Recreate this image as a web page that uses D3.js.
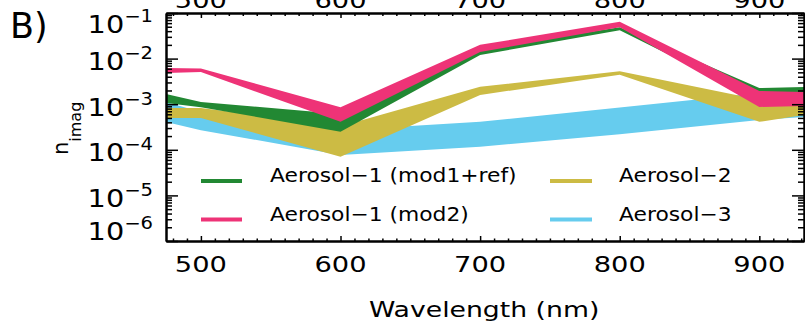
<!DOCTYPE html>
<html>
<head>
<meta charset="utf-8">
<script src="https://cdn.jsdelivr.net/npm/d3@7"></script>
<style>
  body { margin: 0; background: #fff; }
  svg { display: block; }
  text { font-family: "DejaVu Sans", sans-serif; fill: #000; }
</style>
</head>
<body>
<svg id="chart" width="805" height="325"></svg>
<script>
// Wavelengths (nm) at which the imaginary refractive index range is given
const wavelengths = [450, 500, 600, 700, 800, 900, 950];

// Upper / lower bounds of n_imag for each aerosol type
const aer1RefUpper  = [2.5e-3, 1.12e-3, 6.1e-4, 1.65e-2, 4.9e-2, 2.26e-3, 2.45e-3];
const aer1RefLower  = [1.32e-3, 8.6e-4, 2.5e-4, 1.2e-2, 4.2e-2, 1.25e-3, 1.3e-3];
const aer1Mod2Upper = [6.4e-3, 6.1e-3, 8.6e-4, 2.0e-2, 6.4e-2, 1.95e-3, 1.8e-3];
const aer1Mod2Lower = [4.6e-3, 5.1e-3, 4.1e-4, 1.4e-2, 4.9e-2, 8.7e-4, 9.4e-4];
const aer2Upper     = [8.3e-4, 8.3e-4, 3.3e-4, 2.4e-3, 5.3e-3, 1.25e-3, 8.3e-4];
const aer2Lower     = [5.0e-4, 5.0e-4, 7.0e-5, 1.6e-3, 4.4e-3, 4.1e-4, 7.0e-4];
const aer3Upper     = [1.85e-3, 6.75e-4, 2.7e-4, 4.1e-4, 8.5e-4, 1.76e-3, 2.0e-3];
const aer3Lower     = [6.1e-4, 2.7e-4, 7.7e-5, 1.17e-4, 2.2e-4, 4.5e-4, 5.7e-4];

const seriesNames  = ["Aerosol\u22121 (mod1+ref)", "Aerosol\u22121 (mod2)", "Aerosol\u22122", "Aerosol\u22123"];
const seriesColors = ["#228833", "#EE3377", "#CCBB44", "#66CCEE"];

// Tick labels
const xTickValues = [500, 600, 700, 800, 900];
const yTickExponents = [-1, -2, -3, -4, -5, -6];

const svg = d3.select("#chart");
const plotLeft = 166, plotRight = 804, plotTop = 13, plotBottom = 241;

const x = d3.scaleLinear().domain([475, 932]).range([plotLeft, plotRight]);
const y = d3.scaleLog().domain([1e-6, 1e-1]).range([plotBottom, plotTop]);

svg.append("defs").append("clipPath").attr("id", "plotClip")
  .append("rect").attr("x", plotLeft).attr("y", plotTop)
  .attr("width", plotRight - plotLeft).attr("height", plotBottom - plotTop);

// Bands, drawn back to front
const bands = [
  { upper: aer3Upper, lower: aer3Lower, color: seriesColors[3] },
  { upper: aer2Upper, lower: aer2Lower, color: seriesColors[2] },
  { upper: aer1RefUpper, lower: aer1RefLower, color: seriesColors[0] },
  { upper: aer1Mod2Upper, lower: aer1Mod2Lower, color: seriesColors[1] }
];

const area = d3.area()
  .x(d => x(d.w))
  .y0(d => y(d.lo))
  .y1(d => y(d.hi));

const bandG = svg.append("g").attr("clip-path", "url(#plotClip)");
bands.forEach(b => {
  const pts = wavelengths.map((w, i) => ({ w, lo: b.lower[i], hi: b.upper[i] }));
  bandG.append("path").datum(pts).attr("d", area).attr("fill", b.color);
});

// Axes with inward ticks
const xMinor = d3.range(480, 935, 10).filter(v => v % 100 !== 0);
const yMajor = yTickExponents.map(e => Math.pow(10, e));
const yMinor = [];
for (let e = -6; e < -1; e++) for (let m = 2; m <= 9; m++) yMinor.push(m * Math.pow(10, e));

function styleAxis(g) {
  g.selectAll("path.domain").attr("stroke", "#000").attr("stroke-width", 2);
  g.selectAll(".tick line").attr("stroke", "#000").attr("stroke-width", 1.5);
  g.selectAll(".tick text").remove();
}

const axes = [
  [d3.axisBottom(x).tickValues(xTickValues).tickSize(-5), `translate(0,${plotBottom})`],
  [d3.axisBottom(x).tickValues(xMinor).tickSize(-2.5), `translate(0,${plotBottom})`],
  [d3.axisTop(x).tickValues(xTickValues).tickSize(-5), `translate(0,${plotTop})`],
  [d3.axisTop(x).tickValues(xMinor).tickSize(-3), `translate(0,${plotTop})`],
  [d3.axisLeft(y).tickValues(yMajor).tickSize(-12), `translate(${plotLeft},0)`],
  [d3.axisLeft(y).tickValues(yMinor).tickSize(-6), `translate(${plotLeft},0)`],
  [d3.axisRight(y).tickValues(yMajor).tickSize(-12), `translate(${plotRight},0)`],
  [d3.axisRight(y).tickValues(yMinor).tickSize(-6), `translate(${plotRight},0)`]
];
axes.forEach(([ax, tr]) => {
  svg.append("g").attr("transform", tr).call(ax.tickSizeOuter(0).tickFormat("")).call(styleAxis);
});

// X tick labels (bottom and top)
const xs = 1.3;
[272, 8].forEach(base => {
  svg.append("g").selectAll("text").data(xTickValues).join("text")
    .attr("transform", d => `translate(${x(d)},${base}) scale(${xs},1)`)
    .attr("text-anchor", "middle").attr("font-size", 21)
    .text(d => d);
});

// Y tick labels: 10^e
svg.append("g").selectAll("text").data(yTickExponents).join("text")
  .attr("transform", e => {
    const base = Math.max(33, Math.min(240, y(Math.pow(10, e)) + 11.5));
    return `translate(153,${base}) scale(1.15,1)`;
  })
  .attr("text-anchor", "end")
  .each(function (e) {
    const t = d3.select(this);
    t.append("tspan").attr("font-size", 25).text("10");
    t.append("tspan").attr("font-size", 17).attr("dy", -11).text("\u2212" + Math.abs(e));
  });

// Axis titles
svg.append("text")
  .attr("transform", `translate(${(x(500) + x(900)) / 2 + 4},317) scale(1.27,1)`)
  .attr("text-anchor", "middle").attr("font-size", 21)
  .text("Wavelength (nm)");

const yTitle = svg.append("text").attr("transform", "translate(68,155) rotate(-90)");
yTitle.append("tspan").attr("font-size", 21).text("n");
yTitle.append("tspan").attr("font-size", 16).attr("dy", 13).text("imag");

svg.append("text").attr("x", 10).attr("y", 38).attr("font-size", 35).text("B)");

// Legend
const legendCols = [[201, 242, 270], [550, 592, 619]];
const legendRows = [181, 219.5];
const legendOrder = [[0, 0, 0], [1, 0, 1], [2, 1, 0], [3, 1, 1]];
legendOrder.forEach(([s, c, r]) => {
  const [x1, x2, tx] = legendCols[c];
  const ly = legendRows[r];
  svg.append("line").attr("x1", x1).attr("x2", x2).attr("y1", ly).attr("y2", ly)
    .attr("stroke", seriesColors[s]).attr("stroke-width", 4);
  svg.append("text").attr("transform", `translate(${tx},${ly + 1}) scale(1.09,1)`)
    .attr("font-size", 20).text(seriesNames[s]);
});
</script>
</body>
</html>
